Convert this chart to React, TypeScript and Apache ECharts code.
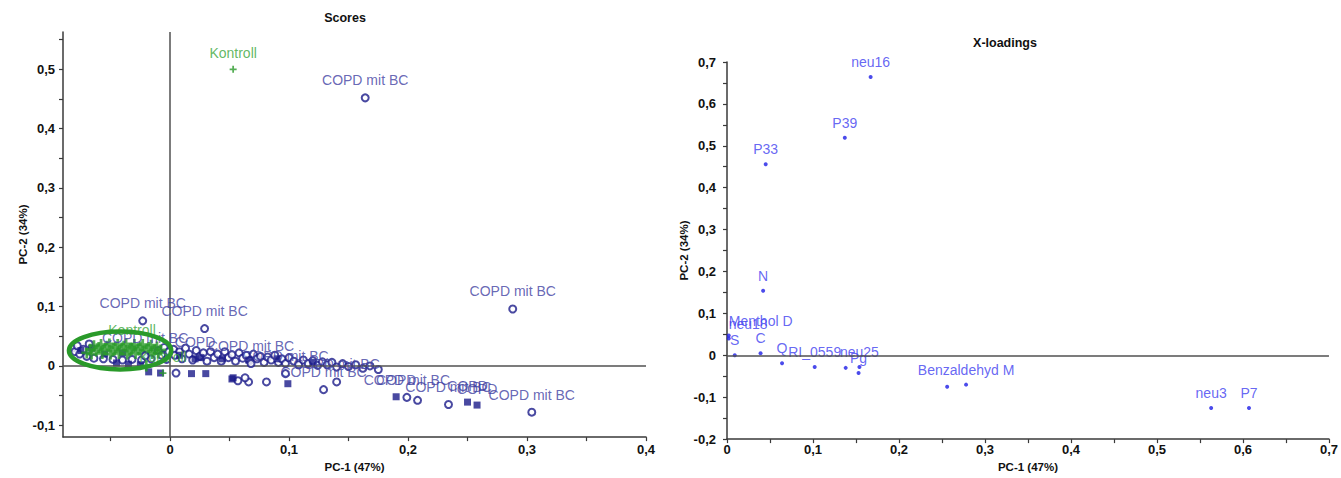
import React, { useEffect, useRef } from "react";
import * as echarts from "echarts";

// ---------- Scores (left) ----------
const scoresXLabels = [0, 0.1, 0.2, 0.3, 0.4];
const scoresXTicks = [-0.05, 0, 0.05, 0.1, 0.15, 0.2, 0.25, 0.3, 0.35, 0.4];
const scoresYLabels = [-0.1, 0, 0.1, 0.2, 0.3, 0.4, 0.5];
const scoresYTicks = [-0.1, -0.05, 0, 0.05, 0.1, 0.15, 0.2, 0.25, 0.3, 0.35, 0.4, 0.45, 0.5, 0.55];

const copdMitBcLabeled = [
  [0.164, 0.452], [0.288, 0.096], [-0.023, 0.076], [0.029, 0.063], [-0.021, 0.017],
  [0.097, -0.013], [0.14, -0.027], [0.129, -0.04], [0.199, -0.053], [0.234, -0.065], [0.304, -0.078],
  [0.068, 0.004],
];
const copdMitBcPlain = [
  [-0.082, 0.03], [-0.08, 0.024], [-0.078, 0.034], [-0.076, 0.02], [-0.073, 0.028], [-0.07, 0.016],
  [-0.068, 0.037], [-0.064, 0.013], [-0.056, 0.012], [-0.048, 0.011], [-0.04, 0.01], [-0.032, 0.011],
  [-0.024, 0.01], [-0.016, 0.012], [-0.01, 0.026], [-0.007, 0.018], [-0.005, 0.031], [-0.003, 0.011],
  [-0.001, 0.024],
  [0.003, 0.028], [0.004, 0.018], [0.008, 0.024], [0.01, 0.012], [0.013, 0.03], [0.016, 0.02],
  [0.019, 0.01], [0.022, 0.026], [0.025, 0.016], [0.028, 0.022], [0.031, 0.008], [0.034, 0.024],
  [0.037, 0.014], [0.04, 0.02], [0.043, 0.008], [0.046, 0.024], [0.049, 0.014], [0.052, 0.019],
  [0.055, 0.008], [0.058, 0.022], [0.061, 0.013], [0.064, 0.018], [0.067, 0.009], [0.07, 0.02],
  [0.073, 0.012], [0.076, 0.016], [0.079, 0.006], [0.082, 0.015], [0.085, 0.01], [0.088, 0.018],
  [0.091, 0.006], [0.094, 0.012], [0.097, 0.004], [0.1, 0.014], [0.104, 0.008], [0.108, 0.002],
  [0.112, 0.01], [0.116, 0.004], [0.12, 0.009], [0.124, 0.001], [0.128, 0.007], [0.132, 0.002],
  [0.136, 0.006], [0.14, -0.002], [0.145, 0.004], [0.15, -0.001], [0.156, 0.002], [0.162, -0.004],
  [0.168, 0.0], [0.175, -0.006],
  [0.005, -0.012], [0.057, -0.025], [0.066, -0.027], [0.081, -0.027], [0.063, -0.02], [0.208, -0.058],
];
const copdLabeled = [[0.021, 0.012], [0.19, -0.052], [0.25, -0.061], [0.258, -0.066]];
const copdPlain = [
  [-0.018, -0.01], [-0.008, -0.012], [0.018, -0.013], [0.03, -0.013], [0.052, -0.022], [0.053, -0.02],
  [0.099, -0.03], [-0.035, 0.003], [-0.025, 0.002], [-0.045, 0.005], [-0.055, 0.02], [-0.04, 0.022],
  [0.008, 0.018], [0.026, 0.014], [0.044, 0.012], [0.066, 0.01], [0.09, 0.012], [0.12, 0.006],
  [-0.075, 0.026], [-0.066, 0.03],
];
const kontrollLabeled = [[0.053, 0.5], [-0.032, 0.033], [-0.006, -0.012]];
const kontrollPlain = [
  [-0.07, 0.022], [-0.067, 0.028], [-0.064, 0.034], [-0.066, 0.02], [-0.062, 0.025], [-0.06, 0.031],
  [-0.058, 0.036], [-0.057, 0.021], [-0.055, 0.027], [-0.053, 0.033], [-0.051, 0.037], [-0.05, 0.02],
  [-0.048, 0.025], [-0.046, 0.031], [-0.044, 0.036], [-0.043, 0.021], [-0.041, 0.027], [-0.039, 0.033],
  [-0.037, 0.037], [-0.036, 0.02], [-0.034, 0.025], [-0.032, 0.03], [-0.03, 0.036], [-0.029, 0.021],
  [-0.027, 0.027], [-0.025, 0.032], [-0.023, 0.036], [-0.022, 0.02], [-0.02, 0.025], [-0.018, 0.031],
  [-0.016, 0.035], [-0.015, 0.021], [-0.013, 0.027], [-0.011, 0.032], [-0.01, 0.022], [-0.008, 0.027],
  [-0.02, 0.0],
];
// ellipse: centre x, centre y, radius x, radius y (data units)
const kontrollEllipse = [[-0.042, 0.026, 0.043, 0.032]];

// ---------- X-loadings (right) ----------
const loadXLabels = [0, 0.1, 0.2, 0.3, 0.4, 0.5, 0.6, 0.7];
const loadXTicks = [0, 0.05, 0.1, 0.15, 0.2, 0.25, 0.3, 0.35, 0.4, 0.45, 0.5, 0.55, 0.6, 0.65, 0.7];
const loadYLabels = [-0.2, -0.1, 0, 0.1, 0.2, 0.3, 0.4, 0.5, 0.6, 0.7];
const loadYTicks = [-0.2, -0.15, -0.1, -0.05, 0, 0.05, 0.1, 0.15, 0.2, 0.25, 0.3, 0.35, 0.4, 0.45, 0.5, 0.55, 0.6, 0.65, 0.7];

const loadingNames = ["neu16", "P39", "P33", "N", "S", "C", "Q", "RI_0559", "neu25", "Pg", "Benzaldehyd M", "neu3", "P7"];
const loadingValues = [
  [0.167, 0.664], [0.137, 0.519], [0.045, 0.456], [0.042, 0.154], [0.009, 0.0], [0.039, 0.005],
  [0.064, -0.019], [0.102, -0.028], [0.154, -0.028], [0.153, -0.042], [0.278, -0.07], [0.563, -0.126], [0.607, -0.126],
];
const loadingLeftNames = ["Menthol D", "neu18"];
const loadingLeftValues = [[0.002, 0.047], [0.002, 0.04]];
const loadingPlain = [[0.138, -0.03], [0.256, -0.075]];

const FONT = '"Liberation Sans", Arial, Helvetica, sans-serif';
const NAVY = "#1b1b8a";
const NAVY_TXT = "#4141a2";
const GREEN = "#2a9a2a";
const GREEN_TXT = "#3aa63a";
const BLUE = "#1e1ee6";
const BLUE_TXT = "#4040f0";
const AXIS = "#3a3a3a";

const fmt = (v: number) => (Math.abs(v) < 1e-9 ? "0" : v.toFixed(1).replace(".", ","));
const PLUS = "path://M3,0H5V3H8V5H5V8H3V5H0V3H3Z";

function axisCommon(labels: number[], ticks: number[], margin: number) {
  return {
    type: "value" as const,
    splitLine: { show: false },
    axisLine: { show: true, onZero: false, lineStyle: { color: AXIS, width: 1.5 } },
    axisTick: { show: true, length: 4, customValues: ticks, lineStyle: { color: AXIS, width: 1.2 } },
    axisLabel: {
      customValues: labels,
      formatter: fmt,
      color: "#111",
      fontFamily: FONT,
      fontWeight: "bold" as const,
      fontSize: 13,
      margin,
    },
    nameTextStyle: { color: "#111", fontFamily: FONT, fontWeight: "bold" as const, fontSize: 11.5 },
    nameLocation: "middle" as const,
  };
}

export default function App() {
  const ref = useRef<HTMLDivElement>(null);
  useEffect(() => {
    document.body.style.margin = "0";
    const chart = echarts.init(ref.current!, null, { renderer: "svg" });
    const labelTop = (color: string) => ({
      show: true,
      position: "top" as const,
      distance: 6,
      color,
      fontFamily: FONT,
      fontSize: 14,
    });
    const option = {
      animation: false,
      backgroundColor: "#fff",
      grid: [
        { left: 63, top: 32, width: 583, height: 411 },
        { left: 727, top: 62, width: 603, height: 382 },
      ],
      xAxis: [
        { ...axisCommon(scoresXLabels, scoresXTicks, 6), gridIndex: 0, min: -0.09, max: 0.4, name: "PC-1 (47%)", nameGap: 22 },
        { ...axisCommon(loadXLabels, loadXTicks, 4), gridIndex: 1, min: 0, max: 0.7, name: "PC-1 (47%)", nameGap: 21 },
      ],
      yAxis: [
        { ...axisCommon(scoresYLabels, scoresYTicks, 8), gridIndex: 0, min: -0.12, max: 0.563, name: "PC-2 (34%)", nameGap: 32, nameRotate: 90 },
        { ...axisCommon(loadYLabels, loadYTicks, 11), gridIndex: 1, min: -0.2, max: 0.7, name: "PC-2 (34%)", nameGap: 36, nameRotate: 90 },
      ],
      graphic: [
        { type: "text", x: 345, y: 18, style: { text: "Scores", align: "center", verticalAlign: "middle", fontFamily: FONT, fontWeight: "bold", fontSize: 12.5, fill: "#111" } },
        { type: "text", x: 1005, y: 43, style: { text: "X-loadings", align: "center", verticalAlign: "middle", fontFamily: FONT, fontWeight: "bold", fontSize: 12.5, fill: "#111" } },
      ],
      series: [
        {
          type: "scatter", xAxisIndex: 0, yAxisIndex: 0, z: 1,
          data: [],
          markLine: {
            silent: true, symbol: "none", label: { show: false },
            lineStyle: { color: "#505050", width: 1.5, type: "solid" },
            data: [{ xAxis: 0 }, { yAxis: 0 }],
          },
        },
        {
          type: "scatter", xAxisIndex: 0, yAxisIndex: 0, z: 3,
          symbol: "emptyCircle", symbolSize: 7,
          itemStyle: { color: NAVY, borderWidth: 1.5 },
          data: copdMitBcPlain,
        },
        {
          type: "scatter", xAxisIndex: 0, yAxisIndex: 0, z: 3,
          symbol: "rect", symbolSize: 7,
          itemStyle: { color: NAVY },
          data: copdPlain,
        },
        {
          type: "scatter", xAxisIndex: 0, yAxisIndex: 0, z: 4,
          symbol: PLUS, symbolSize: 11,
          itemStyle: { color: GREEN },
          data: kontrollPlain,
        },
        {
          type: "scatter", xAxisIndex: 0, yAxisIndex: 0, z: 5,
          symbol: "emptyCircle", symbolSize: 7,
          itemStyle: { color: NAVY, borderWidth: 1.5 },
          label: { ...labelTop(NAVY_TXT), formatter: "COPD mit BC" },
          data: copdMitBcLabeled,
        },
        {
          type: "scatter", xAxisIndex: 0, yAxisIndex: 0, z: 5,
          symbol: "rect", symbolSize: 7,
          itemStyle: { color: NAVY },
          label: { ...labelTop(NAVY_TXT), formatter: "COPD" },
          data: copdLabeled,
        },
        {
          type: "scatter", xAxisIndex: 0, yAxisIndex: 0, z: 5,
          symbol: PLUS, symbolSize: 7,
          itemStyle: { color: GREEN },
          label: { ...labelTop(GREEN_TXT), formatter: "Kontroll" },
          data: kontrollLabeled,
        },
        {
          type: "custom", xAxisIndex: 0, yAxisIndex: 0, z: 10,
          encode: { x: 0, y: 1 },
          data: kontrollEllipse,
          renderItem: (params: any, api: any) => {
            const c = api.coord([api.value(0), api.value(1)]);
            const s = api.size([api.value(2), api.value(3)]);
            return {
              type: "ellipse",
              shape: { cx: c[0], cy: c[1], rx: s[0], ry: s[1] },
              style: { fill: "none", stroke: GREEN, lineWidth: 4.5 },
            };
          },
        },
        // right
        {
          type: "scatter", xAxisIndex: 1, yAxisIndex: 1, z: 1,
          data: [],
          markLine: {
            silent: true, symbol: "none", label: { show: false },
            lineStyle: { color: "#505050", width: 1.5, type: "solid" },
            data: [{ yAxis: 0 }],
          },
        },
        {
          type: "scatter", xAxisIndex: 1, yAxisIndex: 1, z: 3,
          symbol: "circle", symbolSize: 4,
          itemStyle: { color: BLUE },
          label: { ...labelTop(BLUE_TXT), distance: 6, formatter: (p: any) => p.name },
          data: loadingValues.map((v, i) => ({ name: loadingNames[i], value: v })),
        },
        {
          type: "scatter", xAxisIndex: 1, yAxisIndex: 1, z: 3,
          symbol: "circle", symbolSize: 4,
          itemStyle: { color: BLUE },
          label: { ...labelTop(BLUE_TXT), distance: 6, align: "left", formatter: (p: any) => p.name },
          data: loadingLeftValues.map((v, i) => ({ name: loadingLeftNames[i], value: v })),
        },
        {
          type: "scatter", xAxisIndex: 1, yAxisIndex: 1, z: 3,
          symbol: "circle", symbolSize: 4,
          itemStyle: { color: BLUE },
          data: loadingPlain,
        },
      ],
    };
    chart.setOption(option as any);
    return () => chart.dispose();
  }, []);
  return <div ref={ref} style={{ width: 1341, height: 478 }} />;
}
